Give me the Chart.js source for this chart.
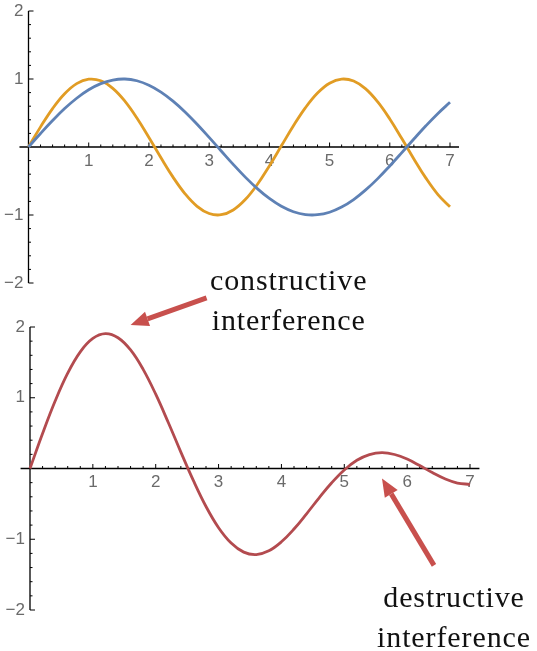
<!DOCTYPE html>
<html>
<head>
<meta charset="utf-8">
<script src="https://cdn.jsdelivr.net/npm/chart.js@4"></script>
<style>
  html, body { margin: 0; padding: 0; background: #fff; }
  body { width: 537px; height: 651px; position: relative; overflow: hidden; }
  .box { position: absolute; left: 0; width: 537px; }
  #topBox { top: 0; height: 290px; }
  #botBox { top: 290px; height: 361px; }
  .note {
    position: absolute; font-family: "Liberation Serif", serif; font-size: 30px;
    letter-spacing: 0.9px; line-height: 40px; color: #111; text-align: center; white-space: nowrap;
  }
</style>
</head>
<body>
<div class="box" id="topBox"><canvas id="topChart"></canvas></div>
<div class="box" id="botBox"><canvas id="sumChart"></canvas></div>
<div class="note" style="left:210px; top:260px;">constructive<br>interference</div>
<div class="note" style="left:377px; top:577px;">destructive<br>interference</div>
<script>
// sample points, step 0.2
const xs = [0,0.2,0.4,0.6,0.8,1,1.2,1.4,1.6,1.8,2,2.2,2.4,2.6,2.8,3,3.2,3.4,3.6,3.8,4,4.2,4.4,4.6,4.8,5,5.2,5.4,5.6,5.8,6,6.2,6.4,6.6,6.8,7];

const waveA = [0,0.199,0.389,0.565,0.717,0.841,0.932,0.985,1.000,0.974,0.909,0.808,0.675,0.516,0.335,0.141,-0.058,-0.256,-0.443,-0.612,-0.757,-0.872,-0.952,-0.994,-0.996,-0.959,-0.883,-0.773,-0.631,-0.465,-0.279,-0.083,0.117,0.312,0.494,0.657];

const waveB = [0,0.296,0.565,0.783,0.932,0.997,0.974,0.863,0.675,0.427,0.141,-0.158,-0.443,-0.688,-0.872,-0.978,-0.996,-0.926,-0.773,-0.551,-0.279,0.017,0.312,0.579,0.794,0.938,0.999,0.970,0.855,0.663,0.412,0.124,-0.175,-0.458,-0.700,-0.880];

const waveSum = [0,0.495,0.954,1.348,1.649,1.838,1.906,1.848,1.675,1.401,1.050,0.650,0.232,-0.172,-0.537,-0.837,-1.054,-1.182,-1.216,-1.163,-1.036,-0.855,-0.640,-0.415,-0.202,-0.021,0.116,0.197,0.224,0.198,0.133,0.041,-0.058,-0.146,-0.206,-0.223];

const xTicks = [1,2,3,4,5,6,7];
const yTicks = [-2,-1,1,2];

const pts = ys => xs.map((x, i) => ({x: x, y: ys[i]}));
const fmt = v => (v < 0 ? '\u2212' + Math.abs(v) : String(v));

// Mathematica-style axes crossing at the origin
const axesPlugin = {
  id: 'axes',
  beforeDatasetsDraw(chart) {
    const {ctx, scales: {x, y}} = chart;
    const x0 = x.getPixelForValue(0), y0 = y.getPixelForValue(0);
    ctx.save();
    ctx.strokeStyle = '#000';
    ctx.lineWidth = 1.3;
    ctx.beginPath();
    ctx.moveTo(x.getPixelForValue(-0.15), y0);
    ctx.lineTo(x.getPixelForValue(7.15), y0);
    ctx.moveTo(x0, y.getPixelForValue(-2));
    ctx.lineTo(x0, y.getPixelForValue(2));
    ctx.stroke();

    ctx.lineWidth = 1;
    ctx.beginPath();
    for (let i = 1; i <= 35; i++) {
      const px = x.getPixelForValue(i / 5);
      const len = i % 5 === 0 ? 4.5 : 2.5;
      ctx.moveTo(px, y0);
      ctx.lineTo(px, y0 - len);
    }
    for (let i = -10; i <= 10; i++) {
      if (i === 0) continue;
      const py = y.getPixelForValue(i / 5);
      const len = i % 5 === 0 ? 5 : 2.5;
      ctx.moveTo(x0, py);
      ctx.lineTo(x0 + len, py);
    }
    ctx.stroke();

    ctx.fillStyle = '#6a6a6a';
    ctx.font = '17px "Liberation Sans", Arial, sans-serif';
    ctx.textAlign = 'center';
    ctx.textBaseline = 'middle';
    xTicks.forEach(v => ctx.fillText(fmt(v), x.getPixelForValue(v), y0 + 14));
    ctx.textAlign = 'right';
    yTicks.forEach(v => ctx.fillText(fmt(v), x0 - 5, y.getPixelForValue(v)));
    ctx.restore();
  }
};

function arrow(ctx, tx, ty, fx, fy, color) {
  const ang = Math.atan2(ty - fy, tx - fx);
  const head = 18, half = 7.5;
  const bx = tx - head * Math.cos(ang), by = ty - head * Math.sin(ang);
  ctx.save();
  ctx.strokeStyle = color;
  ctx.fillStyle = color;
  ctx.lineWidth = 5;
  ctx.beginPath();
  ctx.moveTo(fx, fy);
  ctx.lineTo(bx, by);
  ctx.stroke();
  ctx.beginPath();
  ctx.moveTo(tx, ty);
  ctx.lineTo(bx + half * Math.sin(ang), by - half * Math.cos(ang));
  ctx.lineTo(bx - half * Math.sin(ang), by + half * Math.cos(ang));
  ctx.closePath();
  ctx.fill();
  ctx.restore();
}

// arrows pointing at the peaks of the summed wave
const notePlugin = {
  id: 'notes',
  afterDraw(chart) {
    const {ctx, scales: {x, y}} = chart;
    const ax = x.getPixelForValue(1.6), ay = y.getPixelForValue(2.03);
    arrow(ctx, ax, ay, ax + 76, ay - 27, '#c8504d');
    const bx = x.getPixelForValue(5.6), by = y.getPixelForValue(-0.14);
    arrow(ctx, bx, by, bx + 52, by + 87, '#c8504d');
  }
};

function baseOptions(pad) {
  return {
    responsive: true,
    maintainAspectRatio: false,
    animation: false,
    layout: {padding: pad},
    plugins: {legend: {display: false}, tooltip: {enabled: false}},
    elements: {point: {radius: 0}, line: {tension: 0.4, borderWidth: 2.8}},
    scales: {
      x: {type: 'linear', min: 0, max: 7, display: false},
      y: {type: 'linear', min: -2, max: 2, display: false}
    }
  };
}

new Chart(document.getElementById('topChart'), {
  type: 'line',
  data: {
    datasets: [
      {label: 'sin x', data: pts(waveA), borderColor: '#5e81b5', clip: false},
      {label: 'sin 1.5x', data: pts(waveB), borderColor: '#e19c24', clip: false}
    ]
  },
  options: baseOptions({left: 28.5, right: 87, top: 11, bottom: 7}),
  plugins: [axesPlugin]
});

new Chart(document.getElementById('sumChart'), {
  type: 'line',
  data: {
    datasets: [
      {label: 'sum', data: pts(waveSum), borderColor: '#b34b4f', clip: false}
    ]
  },
  options: baseOptions({left: 30, right: 67, top: 37, bottom: 41}),
  plugins: [axesPlugin, notePlugin]
});
</script>
</body>
</html>
